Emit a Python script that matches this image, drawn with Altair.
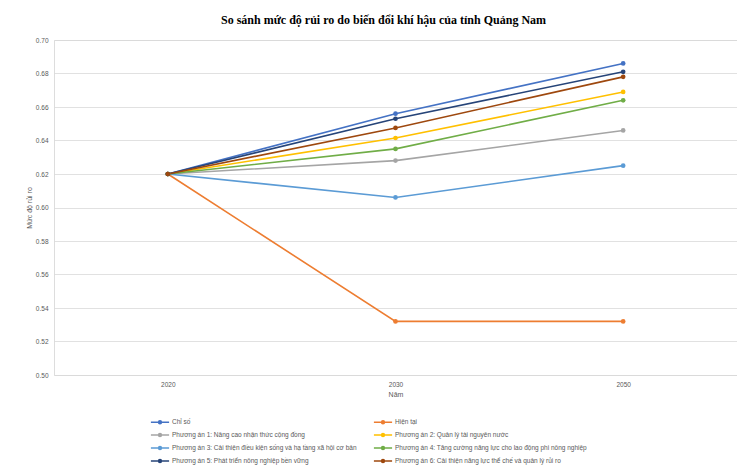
import altair as alt
import pandas as pd

years = ["2020", "2030", "2050"]
series_names = [
    "Chỉ số",
    "Hiện tại",
    "Phương án 1: Nâng cao nhận thức cộng đồng",
    "Phương án 2: Quản lý tài nguyên nước",
    "Phương án 3: Cải thiện điều kiện sống và hạ tầng xã hội cơ bản",
    "Phương án 4: Tăng cường năng lực cho lao động phi nông nghiệp",
    "Phương án 5: Phát triển nông nghiệp bền vững",
    "Phương án 6: Cải thiện năng lực thể chế và quản lý rủi ro",
]
chi_so = [0.620, 0.656, 0.686]
hien_tai = [0.620, 0.532, 0.532]
pa1 = [0.620, 0.628, 0.646]
pa2 = [0.620, 0.6415, 0.669]
pa3 = [0.620, 0.606, 0.625]
pa4 = [0.620, 0.635, 0.664]
pa5 = [0.620, 0.653, 0.681]
pa6 = [0.620, 0.6475, 0.678]
colors = ["#4472C4", "#ED7D31", "#A5A5A5", "#FFC000", "#5B9BD5", "#70AD47", "#264478", "#9E480E"]

all_values = [chi_so, hien_tai, pa1, pa2, pa3, pa4, pa5, pa6]
rows = []
for i, (name, vals) in enumerate(zip(series_names, all_values)):
    for y, v in zip(years, vals):
        rows.append({"series": name, "order": i, "year": y, "value": v})
df = pd.DataFrame(rows)

# legend fills column by column: reorder so it reads row by row like the reference
legend_order = [0, 2, 4, 6, 1, 3, 5, 7]
legend_domain = [series_names[i] for i in legend_order]
legend_range = [colors[i] for i in legend_order]

sym = "M-1.3,0H1.3M0.2,0A0.2,0.2,0,1,1,-0.2,0A0.2,0.2,0,1,1,0.2,0"

chart = alt.Chart(df).mark_line(
    strokeWidth=1.6,
    point=alt.OverlayMarkDef(filled=True, size=22),
).encode(
    x=alt.X("year:N", sort=years, title="Năm",
            scale=alt.Scale(paddingInner=0, paddingOuter=0.5),
            axis=alt.Axis(labelAngle=0, domain=False, ticks=False, labelFontSize=6.5,
                          labelColor="#595959", labelPadding=6, titleFontSize=7,
                          titleColor="#595959", titlePadding=3, titleFontWeight="normal",
                          labelFont="Liberation Sans", titleFont="Liberation Sans")),
    y=alt.Y("value:Q", title="Mức độ rủi ro",
            scale=alt.Scale(domain=[0.50, 0.70], nice=False, zero=False),
            axis=alt.Axis(values=[0.50, 0.52, 0.54, 0.56, 0.58, 0.60, 0.62, 0.64, 0.66, 0.68, 0.70],
                          format=".2f", domain=False, ticks=False, labelFontSize=6.5,
                          labelColor="#595959", labelPadding=6, titleFontSize=7,
                          titleColor="#595959", titlePadding=3, titleFontWeight="normal",
                          gridColor="#D9D9D9", gridWidth=0.8,
                          labelFont="Liberation Sans", titleFont="Liberation Sans")),
    color=alt.Color("series:N", sort=legend_domain,
                    scale=alt.Scale(domain=legend_domain, range=legend_range),
                    legend=alt.Legend(
                        title=None, orient="none", legendX=98, legendY=374,
                        columns=2, columnPadding=13, rowPadding=0,
                        symbolType=sym, symbolSize=196, symbolStrokeWidth=1.6,
                        labelFontSize=6.5, labelColor="#595959", labelOffset=4,
                        labelFont="Liberation Sans", labelLimit=300,
                    )),
    order=alt.Order("order:Q"),
).properties(
    width=683,
    height=335,
    title=alt.TitleParams(
        "So sánh mức độ rủi ro do biến đổi khí hậu của tỉnh Quảng Nam",
        font="Liberation Serif", fontSize=12, fontWeight="bold", color="#000000",
        anchor="middle", offset=10, dx=-12,
    ),
    autosize=alt.AutoSizeParams(type="none"),
    padding={"left": 54, "top": 40, "right": 0, "bottom": 97},
).configure_view(stroke=None).configure(background="white")

chart.save("out.html", embed_options={"renderer": "svg", "actions": False})
